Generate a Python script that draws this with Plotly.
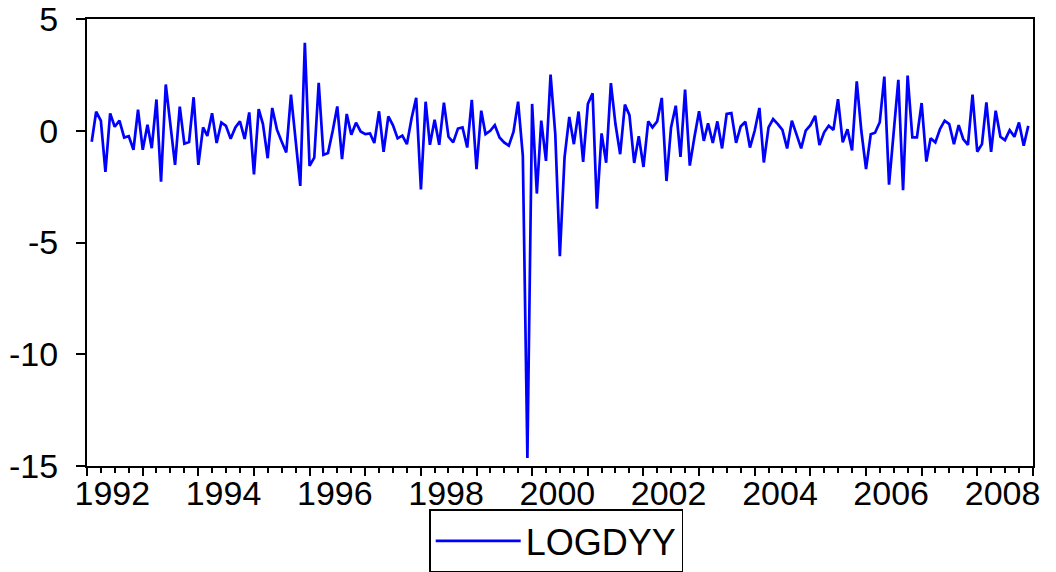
import pandas as pd
import plotly.graph_objects as go

series_name = "LOGDYY"
start_month = "1992-02-01"
logdyy = [
    -0.49, 0.85, 0.45, -1.84, 0.78, 0.18, 0.45, -0.30, -0.24, -0.85, 0.94,
    -0.85, 0.27, -0.78, 1.40, -2.28, 2.07, 0.27, -1.53, 1.08, -0.58, -0.50, 1.50,
    -1.53, 0.15, -0.23, 0.78, -0.55, 0.37, 0.22, -0.36, 0.15, 0.42, -0.37, 0.82,
    -1.95, 0.97, 0.30, -1.23, 1.02, 0.05, -0.47, -0.97, 1.62, -0.45, -2.47, 3.94,
    -1.57, -1.20, 2.14, -1.08, -1.00, 0.00, 1.09, -1.27, 0.75, -0.18, 0.36, -0.03,
    -0.15, -0.12, -0.55, 0.87, -0.94, 0.64, 0.25, -0.34, -0.22, -0.60, 0.57, 1.47,
    -2.62, 1.30, -0.63, 0.49, -0.63, 1.26, -0.27, -0.52, 0.10, 0.15, -0.75, 1.38,
    -1.72, 0.90, -0.15, 0.00, 0.25, -0.30, -0.52, -0.67, -0.04, 1.30, -1.12, -14.64,
    1.20, -2.81, 0.45, -1.35, 2.51, -0.15, -5.61, -1.18, 0.62, -0.60, 0.86, -1.39,
    1.20, 1.68, -3.49, -0.12, -1.43, 2.13, 0.30, -1.05, 1.17, 0.70, -1.44, -0.24,
    -1.62, 0.42, 0.15, 0.42, 1.47, -2.25, 0.15, 1.12, -1.17, 1.84, -1.56, -0.30,
    0.87, -0.45, 0.33, -0.55, 0.42, -0.79, 0.75, 0.79, -0.54, 0.19, 0.40, -0.75,
    0.00, 1.02, -1.42, 0.15, 0.52, 0.30, 0.04, -0.79, 0.45, -0.15, -0.79, 0.00,
    0.25, 0.67, -0.64, -0.07, 0.22, 0.04, 1.41, -0.52, 0.07, -0.88, 2.21, 0.00,
    -1.71, -0.16, -0.09, 0.38, 2.42, -2.41, -0.08, 2.28, -2.66, 2.47, -0.30, -0.30,
    1.24, -1.38, -0.33, -0.52, 0.07, 0.45, 0.30, -0.60, 0.25, -0.37, -0.63, 1.62,
    -0.94, -0.60, 1.27, -0.94, 0.90, -0.27, -0.42, 0.03, -0.27, 0.37, -0.67, 0.22,
]
label_years = [1992, 1994, 1996, 1998, 2000, 2002, 2004, 2006, 2008]
y_ticks = [5, 0, -5, -10, -15]
y_tick_text = ["5", "0", "-5", "-10", "-15"]

dates = pd.date_range(start_month, periods=len(logdyy), freq="MS")
x_range = ["1992-01-01", "2009-01-01"]
major_ticks = [f"{y}-01-01" for y in range(1992, 2010)]
label_pos = [f"{y}-06-15" for y in label_years]
label_txt = [str(y) for y in label_years]

FONT = "Liberation Sans, Arial, sans-serif"

fig = go.Figure()
fig.add_trace(go.Scatter(
    x=dates, y=logdyy, mode="lines", name=series_name,
    line=dict(color="#0000FF", width=2.7),
))
# helper trace so the label axis is drawn
fig.add_trace(go.Scatter(
    x=[dates[0]], y=[None], xaxis="x2", mode="lines",
    showlegend=False, hoverinfo="skip",
))

fig.update_layout(
    width=1056, height=584,
    margin=dict(l=87, r=23, t=19, b=110),
    paper_bgcolor="white", plot_bgcolor="white",
    font=dict(family=FONT, size=34, color="black"),
    showlegend=True,
    legend=dict(
        orientation="h", x=0.496, y=-0.238, xanchor="center", yanchor="bottom",
        bordercolor="black", borderwidth=1.5, bgcolor="white",
        font=dict(family=FONT, size=36, color="black"),
        itemwidth=85, tracegroupgap=0,
    ),
    xaxis=dict(
        type="date", range=x_range, automargin=False,
        tickmode="array", tickvals=major_ticks, showticklabels=False,
        ticks="outside", ticklen=8, tickwidth=2, tickcolor="black",
        minor=dict(tickmode="linear", tick0="1992-01-01", dtick="M3",
                   ticks="outside", ticklen=5, tickwidth=1.5, tickcolor="black",
                   showgrid=False),
        showline=True, linecolor="black", linewidth=2, mirror=True,
        showgrid=False, zeroline=False,
    ),
    xaxis2=dict(
        type="date", range=x_range, overlaying="x", anchor="y", side="bottom",
        automargin=False,
        tickmode="array", tickvals=label_pos, ticktext=label_txt,
        ticks="outside", ticklen=1, tickcolor="rgba(0,0,0,0)",
        ticklabelstandoff=-4,
        showline=False, showgrid=False, zeroline=False,
        tickfont=dict(family=FONT, size=34, color="black"),
    ),
    yaxis=dict(
        range=[-15, 5], automargin=False,
        tickmode="array", tickvals=y_ticks, ticktext=y_tick_text,
        ticks="outside", ticklen=9, tickwidth=2, tickcolor="black",
        ticklabelstandoff=11, ticklabeloverflow="allow",
        showline=True, linecolor="black", linewidth=2, mirror=True,
        showgrid=False, zeroline=False,
        tickfont=dict(family=FONT, size=34, color="black"),
    ),
)

page_fix = (
    "document.body.style.margin='0';"
    "document.body.style.overflow='hidden';"
    "document.documentElement.style.overflow='hidden';"
)
fig.write_html("out.html", post_script=page_fix,
               config={"displayModeBar": False})
